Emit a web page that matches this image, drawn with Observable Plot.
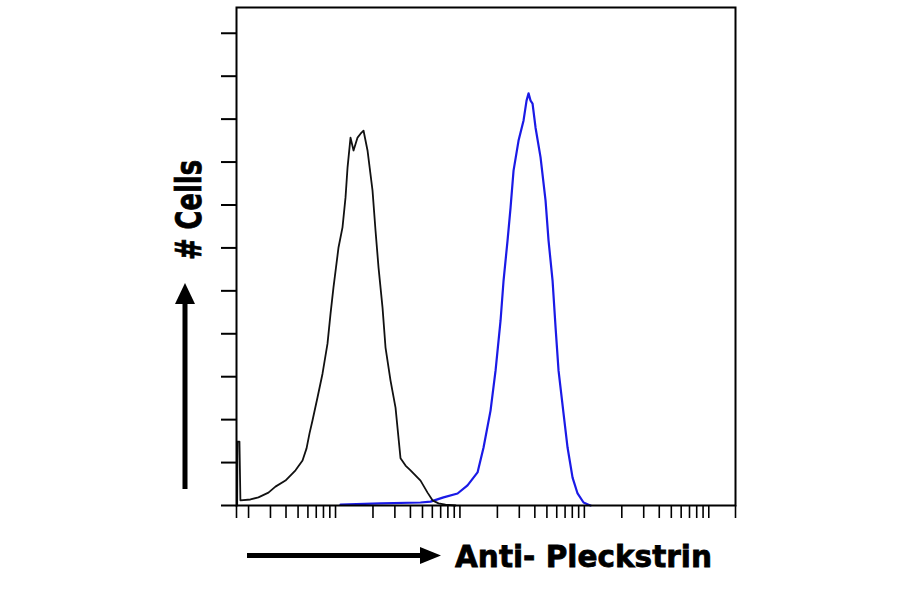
<!DOCTYPE html>
<html>
<head>
<meta charset="utf-8">
<script src="https://cdn.jsdelivr.net/npm/d3@7"></script>
<script src="https://cdn.jsdelivr.net/npm/@observablehq/plot@0.6"></script>
<style>
  html, body { margin: 0; padding: 0; background: #fff; }
  #chart svg { display: block; }
</style>
</head>
<body>
<div id="chart"></div>
<script>
// ---- data (fluorescence intensity, arbitrary log units; cell counts) ----
const xDomain = [1.6, 16400];
const yDomain = [0, 116];

// isotype control (black)
const controlX = [1.62, 1.63, 1.69, 1.72, 2.07, 2.40, 2.89, 3.29, 3.96, 4.77, 5.43, 5.85, 6.18, 6.53, 7.17, 7.86, 8.62, 9.12, 9.63, 10.57, 11.38, 12.03, 12.49, 13.20, 13.96, 15.03, 15.89, 16.80, 18.08, 19.83, 20.97, 22.17, 23.87, 25.23, 27.68, 30.36, 33.30, 36.53, 40.07, 48.23, 54.9, 60.2, 67.3, 76.6, 92.2];
const controlY = [0, 14.9, 14.9, 1.2, 1.4, 1.9, 3.0, 4.4, 5.8, 8.2, 10.5, 13.3, 16.8, 19.8, 25.2, 30.7, 37.7, 44.7, 50.8, 60.1, 64.8, 71.7, 78.7, 85.7, 82.7, 85.7, 86.6, 87.3, 82.7, 73.4, 64.0, 55.4, 46.1, 36.8, 29.1, 22.8, 11.0, 9.3, 8.2, 5.8, 3.0, 1.2, 0.5, 0.2, 0];

// Anti-Pleckstrin stained (blue)
const stainedX = [10.97, 23.0, 48.2, 58.0, 73.8, 95.7, 115.1, 138.5, 154.8, 176.2, 193.3, 212.1, 224.2, 241.3, 255.2, 269.7, 295.9, 324.6, 343.1, 356.1, 369.5, 383.4, 405.3, 444.6, 487.7, 515.5, 555.2, 586.9, 620.3, 680.5, 732.8, 803.9, 881.9, 985.2, 1081, 1122];
const stainedY = [0.2, 0.5, 0.7, 0.9, 1.9, 2.8, 4.7, 7.7, 13.5, 22.1, 31.4, 43.1, 52.4, 61.7, 69.4, 78.0, 85.0, 89.7, 94.3, 96.0, 94.3, 93.6, 88.0, 81.1, 71.0, 61.7, 52.4, 41.5, 31.4, 21.4, 13.5, 6.5, 2.8, 0.7, 0.2, 0];

// ticks (unlabelled)
const yTicks = [0, 10, 20, 30, 40, 50, 60, 70, 80, 90, 100, 110];
const decades = [1, 10, 100, 1000];
const multipliers = [2, 3, 4, 5, 6, 7, 8, 9, 10];
const xTicks = [xDomain[0], ...decades.flatMap(d => multipliers.map(m => m * d)), xDomain[1]];

const xLabel = "Anti- Pleckstrin";
const yLabel = "# Cells";

// ---- build tables ----
const control = controlX.map((x, i) => ({x, y: controlY[i]}));
const stained = stainedX.map((x, i) => ({x, y: stainedY[i]}));

const W = 900, H = 594;
const mL = 236, mR = 165, mT = 7, mB = 89;

const svg = Plot.plot({
  width: W,
  height: H,
  marginLeft: mL,
  marginRight: mR,
  marginTop: mT,
  marginBottom: mB,
  style: {background: "#fff", color: "#000"},
  x: {type: "log", domain: xDomain},
  y: {domain: yDomain},
  marks: [
    Plot.line(stained, {x: "x", y: "y", stroke: "#1a1ae6", strokeWidth: 2.2}),
    Plot.line(control, {x: "x", y: "y", stroke: "#111", strokeWidth: 1.8}),
    Plot.axisY({ticks: yTicks, tickSize: 15, tickFormat: () => "", strokeWidth: 2, label: null}),
    Plot.axisX({ticks: xTicks, tickSize: 13, tickFormat: () => "", strokeWidth: 1.6, label: null}),
    Plot.frame({stroke: "#000", strokeWidth: 2})
  ]
});

document.getElementById("chart").appendChild(svg);

// ---- decorative axis titles with arrows ----
const s = d3.select(svg);
const g = s.append("g").attr("fill", "#000");

// vertical arrow
g.append("line")
  .attr("x1", 185).attr("x2", 185)
  .attr("y1", 489).attr("y2", 300)
  .attr("stroke", "#000").attr("stroke-width", 5);
g.append("path").attr("d", "M175,304 L185,283 L195,304 Z");

// y title
g.append("text")
  .attr("transform", "translate(201,210) rotate(-90)")
  .attr("text-anchor", "middle")
  .attr("font-family", "DejaVu Sans, sans-serif")
  .attr("font-weight", "bold")
  .attr("font-size", 36)
  .attr("stroke", "#000").attr("stroke-width", 0.8)
  .attr("textLength", 100)
  .attr("lengthAdjust", "spacingAndGlyphs")
  .text(yLabel);

// horizontal arrow
g.append("line")
  .attr("x1", 247).attr("x2", 424)
  .attr("y1", 555.5).attr("y2", 555.5)
  .attr("stroke", "#000").attr("stroke-width", 5);
g.append("path").attr("d", "M420,547 L441,555.5 L420,564 Z");

// x title
g.append("text")
  .attr("x", 455).attr("y", 567)
  .attr("text-anchor", "start")
  .attr("font-family", "DejaVu Sans, sans-serif")
  .attr("font-weight", "bold")
  .attr("font-size", 31)
  .attr("stroke", "#000").attr("stroke-width", 0.8)
  .attr("textLength", 257)
  .attr("lengthAdjust", "spacingAndGlyphs")
  .text(xLabel);
</script>
</body>
</html>
